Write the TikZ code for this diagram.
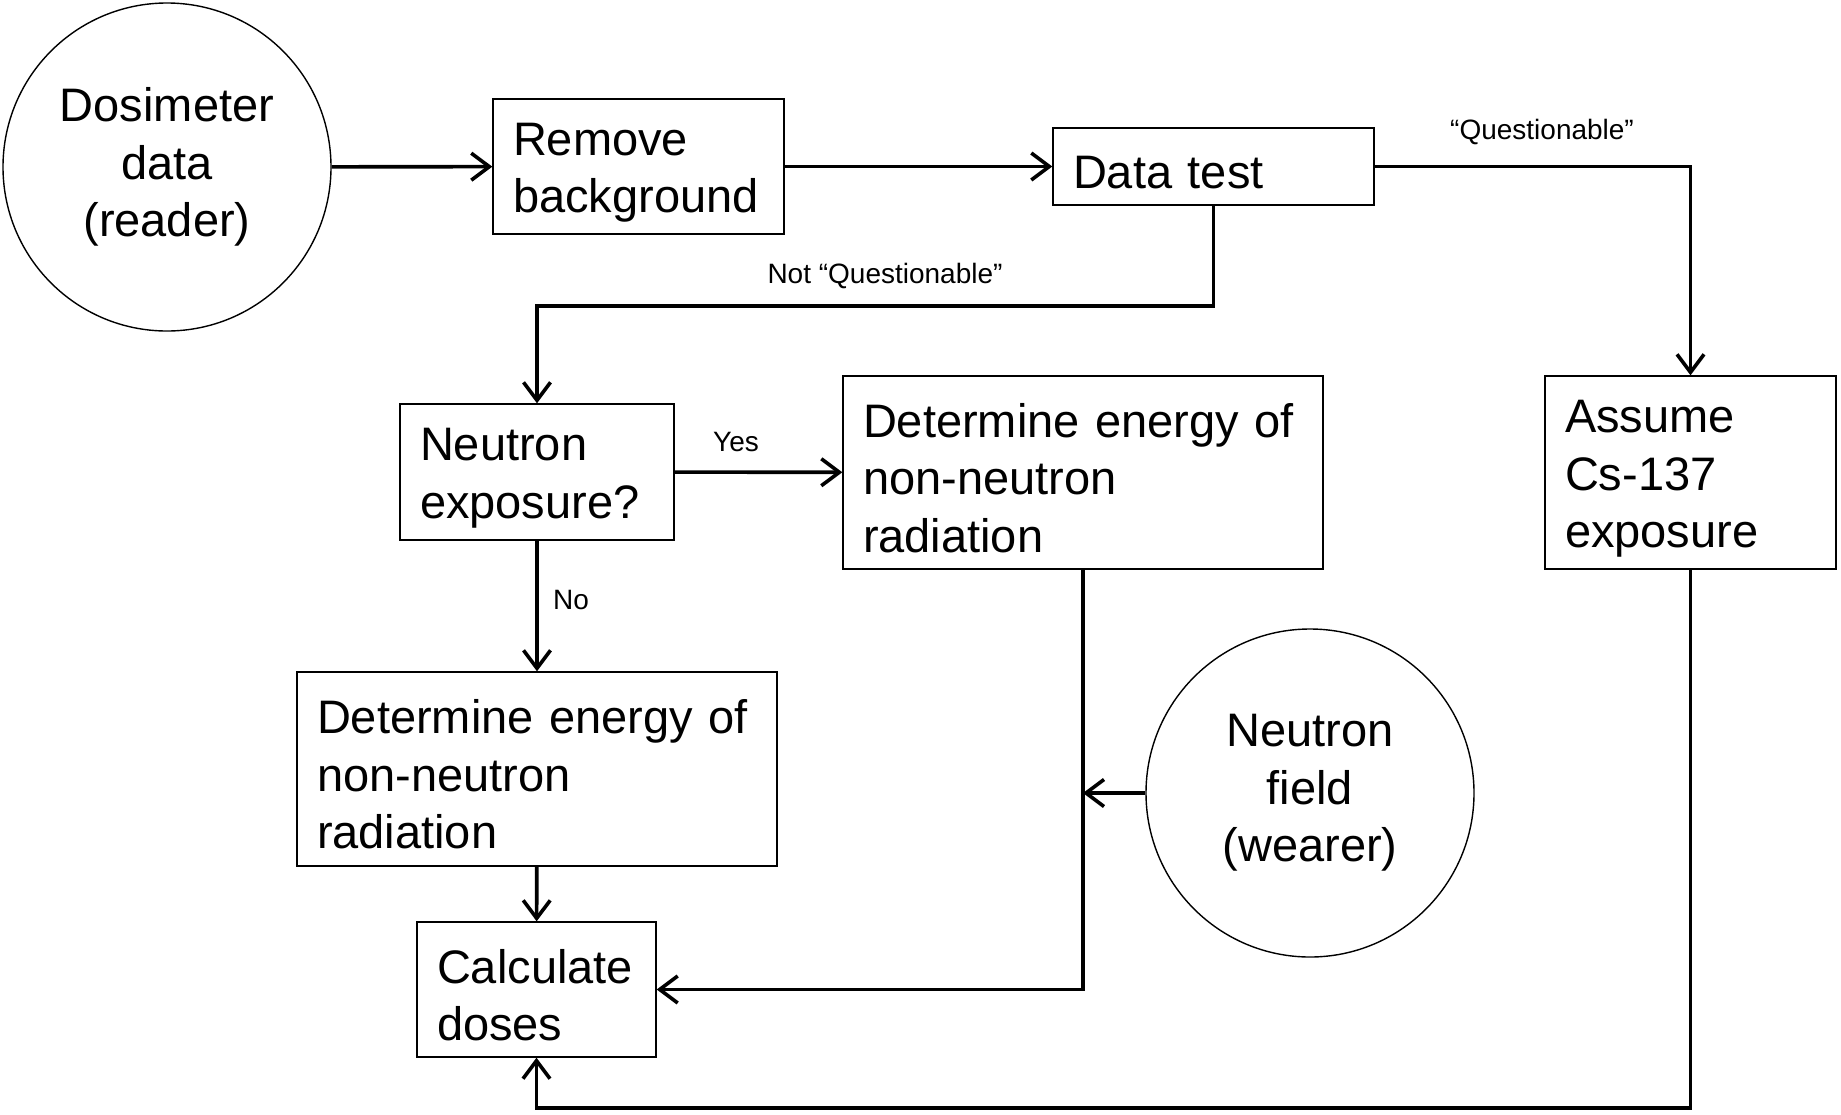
\documentclass[tikz,border=0pt]{standalone}
\usepackage{fontspec}
\setmainfont{Liberation Sans}
\usetikzlibrary{arrows.meta}

\begin{document}
\begin{tikzpicture}[x=1pt,y=-1pt,>={Straight Barb[length=18pt,width=27pt]},
  box/.style={draw,line width=1.4pt,align=left,inner xsep=20pt,inner ysep=0pt,font=\fontsize{47}{57.5}\selectfont,
    execute at begin node={\rule{0pt}{45pt}}},
  blob/.style={circle,draw,line width=1.4pt,align=center,inner sep=0pt,minimum size=328pt,font=\fontsize{47}{57.5}\selectfont,
    execute at begin node={\rule{0pt}{45pt}}},
  flow/.style={line width=3.6pt},
  lbl/.style={font=\fontsize{28}{32}\selectfont}]
\useasboundingbox (0,0) rectangle (1841,1114);
\node[blob] (dos) at (167,167) {Dosimeter\\data\\(reader)};
\node[box,text width=251pt,minimum height=135pt] (rb) at (638.5,166.5) {Remove\\background};
\node[box,text width=281pt,minimum height=77pt] (dt) at (1213.5,166.5) {Data test};
\node[box,text width=234pt,minimum height=136pt] (neu) at (537,472) {Neutron\\exposure?};
\node[box,text width=440pt,minimum height=193pt] (det1) at (1083,472.5) {Determine energy of\\non-neutron\\radiation};
\node[box,text width=251pt,minimum height=193pt] (asm) at (1690.5,472.5) {Assume\\Cs-137\\exposure};
\node[box,text width=440pt,minimum height=194pt] (det2) at (537,769) {Determine energy of\\non-neutron\\radiation};
\node[box,text width=199pt,minimum height=135pt] (calc) at (536.5,989.5) {Calculate\\doses};
\node[blob] (fld) at (1310,793) {Neutron\\field\\(wearer)};
\coordinate (j) at (det1.south |- fld.west);
% labels on the branches
\node[lbl] (q) at (1542,132) {“Questionable”};
\node[lbl] (nq) at (885,276) {Not “Questionable”};
\node[lbl] (yes) at (736,442) {Yes};
\node[lbl] (no) at (571,600) {No};
% connectors
\draw[flow,->] (dos) -- (rb);
\draw[flow,->] (rb) -- (dt);
\draw[flow,->] (dt.east) -| (asm.north);
\draw[flow,->] (dt.south) -- ++(0,100) -| (neu.north);
\draw[flow,->] (neu) -- (det1);
\draw[flow,->] (neu) -- (det2);
\draw[flow,->] (det2) -- (calc);
\draw[flow,->] (det1.south) |- (calc.east);
\draw[flow,->] (fld.west) -- (j);
\draw[flow,->] (asm.south) -- ++(0,538) -| (calc.south);
\end{tikzpicture}
\end{document}
